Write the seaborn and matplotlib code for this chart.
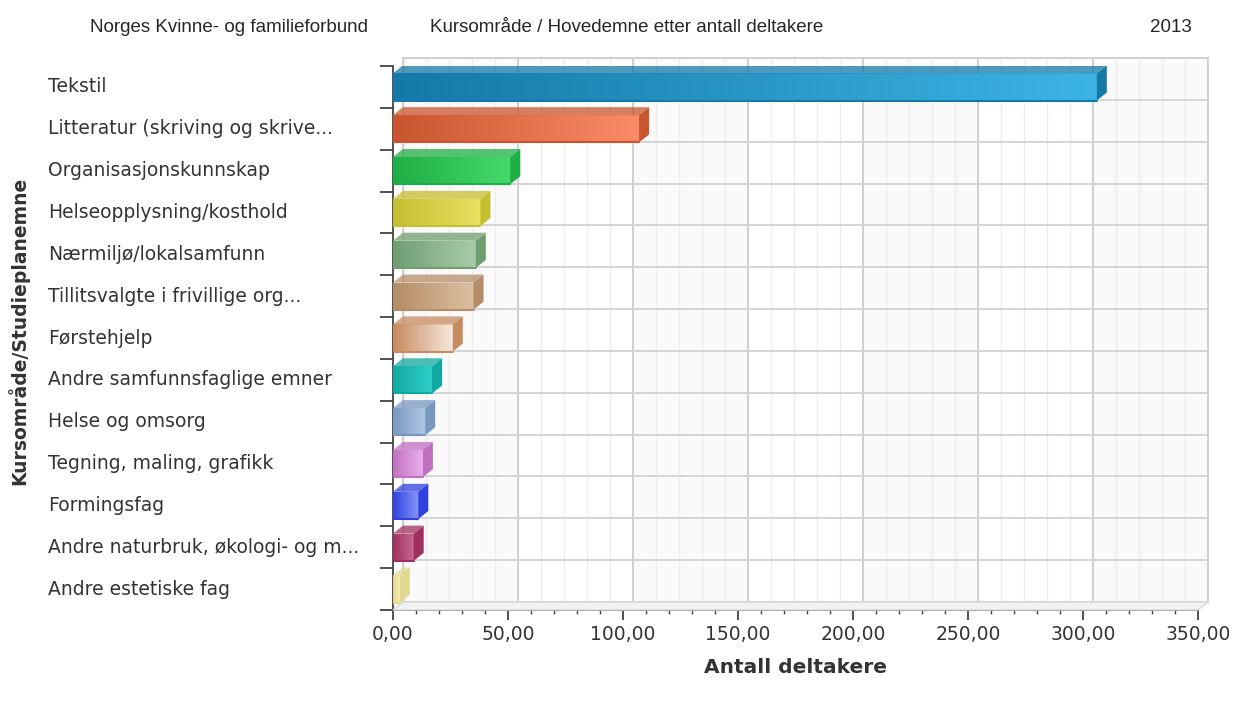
import numpy as np
import pandas as pd
import matplotlib
matplotlib.use("Agg")
import matplotlib.pyplot as plt
import seaborn as sns
from matplotlib.colors import LinearSegmentedColormap
from matplotlib.patches import Polygon

# ---------------- DATA ----------------
categories = [
    "Tekstil",
    "Litteratur (skriving og skrive...",
    "Organisasjonskunnskap",
    "Helseopplysning/kosthold",
    "Nærmiljø/lokalsamfunn",
    "Tillitsvalgte i frivillige org...",
    "Førstehjelp",
    "Andre samfunnsfaglige emner",
    "Helse og omsorg",
    "Tegning, maling, grafikk",
    "Formingsfag",
    "Andre naturbruk, økologi- og m...",
    "Andre estetiske fag",
]
participants = [306, 107, 51, 38, 36, 35, 26, 17, 14, 13, 11, 9, 3]

dark_colors = ["#1479a8", "#c8552e", "#1fae45", "#c4bf30", "#6f9e72", "#b48c68", "#c88a60",
               "#10a8a0", "#7898c0", "#c070c0", "#3040e0", "#a03060", "#e0d890"]
light_colors = ["#3cb4e4", "#fb8c68", "#45d96a", "#e6e260", "#a8cca8", "#dcc0a0", "#f6e8dc",
                "#30d0c8", "#b0c8e4", "#eab0ea", "#8898f8", "#c86890", "#f8f0b8"]

x_ticks = [0, 50, 100, 150, 200, 250, 300, 350]

header_left = "Norges Kvinne- og familieforbund"
header_mid = "Kursområde / Hovedemne etter antall deltakere"
header_right = "2013"
x_title = "Antall deltakere"
y_title = "Kursområde/Studieplanemne"

df = pd.DataFrame({"cat": categories, "val": participants})

# ---------------- LAYOUT ----------------
sns.set_style("white")
plt.rcParams["font.family"] = ["DejaVu Sans"]

W, H = 1237, 702
L, R, T, B = 393, 1198, 66, 610
DX, DY = 10, 8  # 3d depth in px

fig = plt.figure(figsize=(W / 100, H / 100), dpi=100)

# floor strip of the fake 3d box
floor = Polygon([(L / W, 1 - B / H), (R / W, 1 - B / H),
                 ((R + DX) / W, 1 - (B - DY) / H), ((L + DX) / W, 1 - (B - DY) / H)],
                closed=True, transform=fig.transFigure, facecolor="#f2f2f2",
                edgecolor="#d8d8d8", lw=1.0, zorder=0)
fig.patches.append(floor)

# back plane (offset for fake 3d)
ax_back = fig.add_axes([(L + DX) / W, 1 - (B - DY) / H, (R - L) / W, (B - T) / H])
ax_back.set_xlim(0, 350)
ax_back.set_ylim(len(categories) - 0.5, -0.5)
ax_back.set_facecolor("white")
for i, x0 in enumerate(x_ticks[:-1]):
    if i % 2 == 0:
        ax_back.axvspan(x0, x0 + 50, color="#fafafa", zorder=0)
for v in np.arange(0, 351, 10):
    if v % 50 == 0:
        ax_back.axvline(v, color="#cfcfcf", lw=1.4, zorder=1)
    else:
        ax_back.axvline(v, color="#ececec", lw=1.0, zorder=1)
for b in np.arange(-0.5, len(categories), 1.0):
    ax_back.axhline(b, color="#d4d4d4", lw=1.4, zorder=1)
ax_back.axvline(0, color="#f08080", lw=1.0, zorder=2, alpha=0.7)
ax_back.set_xticks([])
ax_back.set_yticks([])
for s in ax_back.spines.values():
    s.set_color("#d0d0d0")
    s.set_linewidth(1.4)

# front axes with bars
ax = fig.add_axes([L / W, 1 - B / H, (R - L) / W, (B - T) / H])
ax.set_facecolor("none")
sns.barplot(data=df, x="val", y="cat", hue="cat", palette=light_colors,
            orient="h", width=0.65, legend=False, ax=ax, saturation=1)

ax.set_xlim(0, 350)
ax.set_ylim(len(categories) - 0.5, -0.5)

dx = DX * 350 / (R - L)
dy = DY * len(categories) / (B - T)

for p, c_dark, c_light in zip(ax.patches, dark_colors, light_colors):
    x0, y0 = p.get_x(), p.get_y()
    w, h = p.get_width(), p.get_height()
    cmap = LinearSegmentedColormap.from_list("g", [c_dark, c_light])
    grad = np.linspace(0, 1, 256).reshape(1, -1)
    im = ax.imshow(grad, extent=[x0, x0 + w, y0 + h, y0], aspect="auto",
                   cmap=cmap, zorder=3, interpolation="bilinear")
    im.set_clip_path(p)
    top = Polygon([(x0, y0), (x0 + w, y0), (x0 + w + dx, y0 - dy), (x0 + dx, y0 - dy)],
                  closed=True, facecolor=c_dark, edgecolor="none", alpha=0.75, zorder=3)
    side = Polygon([(x0 + w, y0), (x0 + w, y0 + h), (x0 + w + dx, y0 + h - dy),
                    (x0 + w + dx, y0 - dy)],
                   closed=True, facecolor=c_dark, edgecolor="none", zorder=3)
    ax.add_patch(top)
    ax.add_patch(side)
    ax.plot([x0, x0 + w], [y0 + h, y0 + h], color=c_dark, lw=1.5, zorder=4)

ax.set_xlim(0, 350)
ax.set_ylim(len(categories) - 0.5, -0.5)

# spines / ticks
for s in ["top", "right"]:
    ax.spines[s].set_visible(False)
for s in ["left", "bottom"]:
    ax.spines[s].set_color("#444444")
    ax.spines[s].set_linewidth(1.3)

ax.set_xticks(x_ticks)
ax.set_xticklabels([f"{v:.2f}".replace(".", ",") for v in x_ticks])
ax.set_xticks(np.arange(0, 351, 10), minor=True)
ax.tick_params(axis="x", which="both", bottom=True)
ax.tick_params(axis="x", which="major", direction="out", length=7, width=1.3,
               color="#444444", labelsize=13.5, labelcolor="#333333", pad=4)
ax.tick_params(axis="x", which="minor", direction="out", length=3, width=1,
               color="#444444")

ax.set_yticks(np.arange(-0.5, len(categories), 1.0))
ax.set_yticklabels([])
ax.tick_params(axis="y", which="major", left=True, direction="out", length=9.5,
               width=1.3, color="#444444")

for i, c in enumerate(categories):
    ax.text((48 - L) / (R - L), i, c, transform=ax.get_yaxis_transform(),
            ha="left", va="center", fontsize=13.5, color="#333333")

ax.set_xlabel(x_title, fontsize=14.5, fontweight="bold", color="#333333", labelpad=10)
ax.set_ylabel("")

fig.text(18 / W, 1 - 331 / H, y_title, rotation=90, ha="center", va="center",
         fontsize=13.5, fontweight="bold", color="#333333")

fig.text(90 / W, 1 - 27 / H, header_left, ha="left", va="center", fontsize=13.5,
         family="Liberation Sans")
fig.text(430 / W, 1 - 27 / H, header_mid, ha="left", va="center", fontsize=13.5,
         family="Liberation Sans")
fig.text(1150 / W, 1 - 27 / H, header_right, ha="left", va="center", fontsize=13.5,
         family="Liberation Sans")

fig.savefig("out.png", dpi=100)
plt.close(fig)
